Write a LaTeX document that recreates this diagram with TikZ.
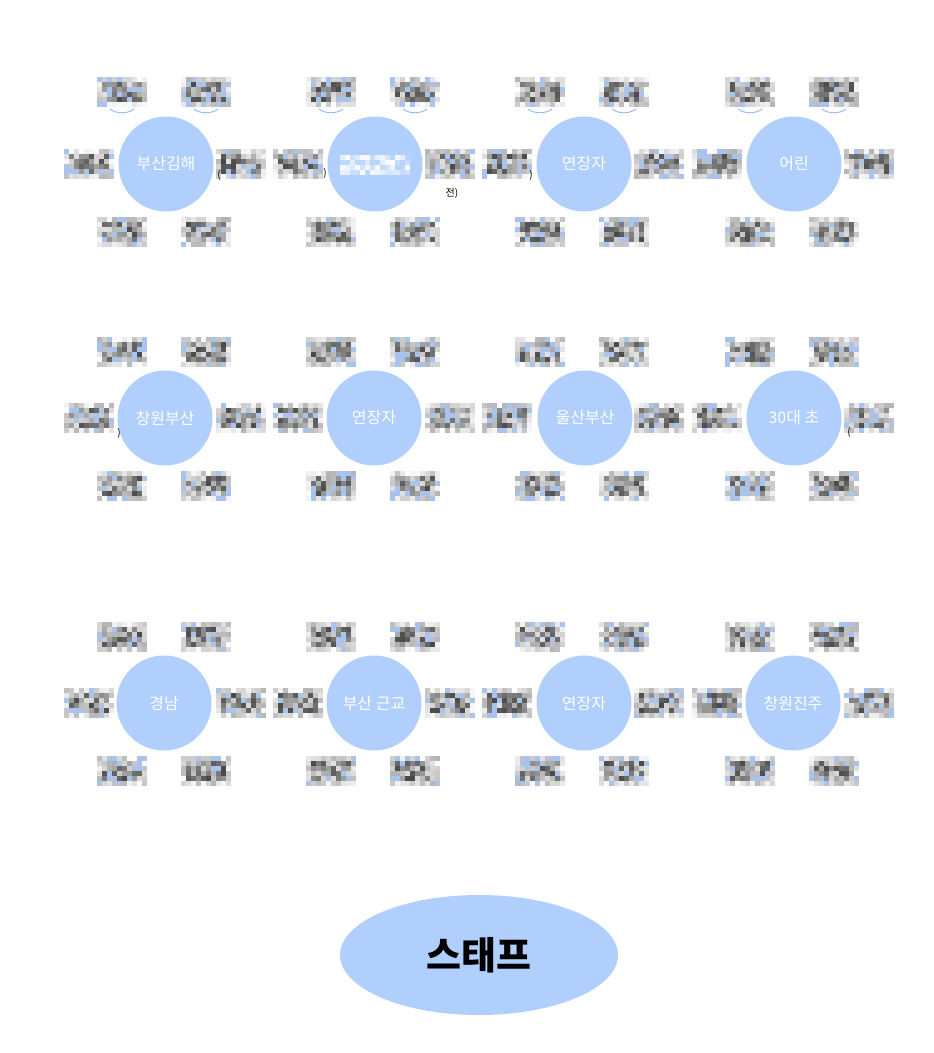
\documentclass[tikz,border=0pt]{standalone}
\usepackage{fontspec}
\newfontfamily\cjk{Noto Sans CJK KR}
\usetikzlibrary{shapes.geometric}
\definecolor{hubblue}{HTML}{B0CFFC}
\definecolor{tintblue}{HTML}{A9C3EC}
\definecolor{arcblue}{HTML}{8DB6F5}
\tikzset{
  hub/.style={circle, fill=hubblue, minimum size=95pt, inner sep=0pt, text=white,
    font=\cjk\fontsize{16}{19}\selectfont},
  staff/.style={ellipse, fill=hubblue, minimum width=278pt, minimum height=120pt, inner sep=0pt,
    font=\cjk\bfseries\fontsize{38}{44}\selectfont},
  stray/.style={inner sep=0pt, font=\cjk\fontsize{10}{12}\selectfont},
  toparc/.style={draw=arcblue, line width=0.9pt}
}
\newcommand\mosaicblock[4]{%
  \pgfmathtruncatemacro\mcols{#3-1}%
  \pgfmathtruncatemacro\mrows{#4-1}%
  \foreach \i in {0,...,\mcols}{%
    \foreach \j in {0,...,\mrows}{%
      \pgfmathrandominteger{\mr}{0}{99}%
      \pgfmathtruncatemacro\medge{(\i==0)||(\i==\mcols)||(\j==0)||(\j==\mrows)}%
      \ifnum\medge=1 \pgfmathtruncatemacro\mg{\mr*0.3}\else\pgfmathtruncatemacro\mg{12+\mr*0.6}\fi
      \pgfmathtruncatemacro\mb{mod(\mr,7)}%
      \ifnum\mb=3 \def\mc{tintblue}\else\def\mc{black!\mg}\fi
      \fill[\mc] ({#1-#3*2.5+\i*5},{#2-#4*2.5+\j*5}) rectangle ++(5,5);
    }}}
\newcommand\hubgroup[3]{% x, y, top dy
  \mosaicblock{#1-44}{#2+#3}{10}{6}%
  \mosaicblock{#1+40}{#2+#3}{10}{6}%
  \mosaicblock{#1-77}{#2}{10}{6}%
  \mosaicblock{#1+75}{#2}{10}{6}%
  \mosaicblock{#1-44}{#2+68}{10}{6}%
  \mosaicblock{#1+40}{#2+68}{10}{6}%
}
\begin{document}
\begin{tikzpicture}[x=1pt,y=-1pt]
\pgfmathsetseed{11}
\useasboundingbox (0,0) rectangle (934,1053);
\fill[white] (0,0) rectangle (934,1053);
% row 1
\foreach \cx in {166,375,584,794}{
  \hubgroup{\cx}{164}{-72}
  \draw[toparc] (\cx-56,109) .. controls (\cx-50,114) and (\cx-38,114) .. (\cx-32,109);
  \draw[toparc] (\cx+28,109) .. controls (\cx+34,114) and (\cx+46,114) .. (\cx+52,109);
}
\foreach \cx in {166,375,584,794}{\hubgroup{\cx}{418}{-66}}
\foreach \cx in {166,375,584,794}{\hubgroup{\cx}{703}{-66}}
\node[hub] (h11) at (166,164) {부산김해};
\node[hub] (h12) at (375,164) {};
\node[hub] (h13) at (584,164) {연장자};
\node[hub] (h14) at (794,164) {어린};
\node[hub] (h21) at (165,418) {창원부산};
\node[hub] (h22) at (374,418) {연장자};
\node[hub] (h23) at (585,418) {울산부산};
\node[hub] (h24) at (794,418) {30대 초};
\node[hub] (h31) at (164,703) {경남};
\node[hub] (h32) at (374,703) {부산 근교};
\node[hub] (h33) at (584,703) {연장자};
\node[hub] (h34) at (793,703) {창원진주};
% blurred white title in second hub
\foreach \i in {0,...,13}{
  \foreach \j in {0,...,3}{
    \pgfmathrandominteger{\mr}{10}{95}
    \fill[white!\mr!hubblue] ({340+\i*5},{155+\j*5}) rectangle ++(5,5);
  }}
% stray visible characters
\node[stray] (s1) at (219,175) {(};
\node[stray] (s2) at (325,173) {)};
\node[stray] (s3) at (452,193) {전)};
\node[stray] (s4) at (531,175) {)};
\node[stray] (s5) at (119,433) {)};
\node[stray] (s6) at (849,432) {(};
\node[staff] (staff) at (479,955) {스태프};
\end{tikzpicture}
\end{document}
